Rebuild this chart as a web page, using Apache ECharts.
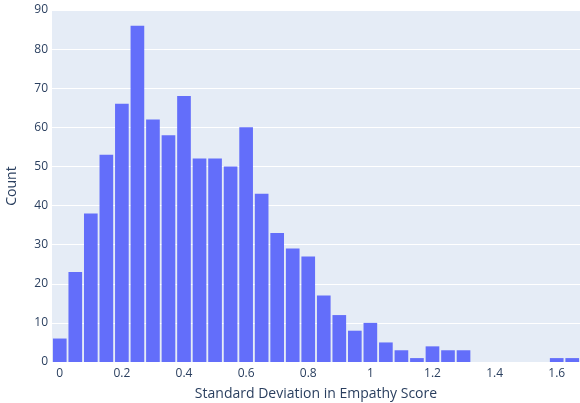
<!DOCTYPE html>
<html>
<head>
<meta charset="utf-8">
<script src="https://cdn.jsdelivr.net/npm/echarts@6/dist/echarts.min.js"></script>
<style>
  html, body { margin: 0; padding: 0; background: #fff; }
  #chart { width: 580px; height: 403px; }
</style>
</head>
<body>
<div id="chart"></div>
<script>
// bin centres (width 0.05) and counts
var binCenters = ['0', '0.05', '0.1', '0.15', '0.2', '0.25', '0.3', '0.35', '0.4', '0.45',
  '0.5', '0.55', '0.6', '0.65', '0.7', '0.75', '0.8', '0.85', '0.9', '0.95',
  '1', '1.05', '1.1', '1.15', '1.2', '1.25', '1.3', '1.35', '1.4', '1.45',
  '1.5', '1.55', '1.6', '1.65'];
var counts = [6, 23, 38, 53, 66, 86, 62, 58, 68, 52,
  52, 50, 60, 43, 33, 29, 27, 17, 12, 8,
  10, 5, 3, 1, 4, 3, 3, 0, 0, 0,
  0, 0, 1, 1];
var yTicks = [0, 10, 20, 30, 40, 50, 60, 70, 80, 90];

var textColor = '#2a3f5f';
var font = '"Open Sans", "Noto Sans", sans-serif';

var myChart = echarts.init(document.getElementById('chart'), null, { renderer: 'canvas' });

var option = {
    animation: false,
    backgroundColor: '#ffffff',
    grid: {
        left: 52,
        right: 0,
        top: 10,
        bottom: 41,
        containLabel: false,
        outerBoundsMode: 'none',
        show: true,
        backgroundColor: '#E5ECF6',
        borderWidth: 0
    },
    xAxis: {
        type: 'category',
        data: binCenters,
        name: 'Standard Deviation in Empathy Score',
        nameLocation: 'middle',
        nameGap: 25,
        nameTextStyle: { color: textColor, fontFamily: font, fontSize: 14 },
        axisLine: { show: false },
        axisTick: { show: false },
        splitLine: { show: false },
        axisLabel: {
            interval: 3,
            margin: 6,
            color: textColor,
            fontFamily: font,
            fontSize: 12
        }
    },
    yAxis: {
        type: 'value',
        min: yTicks[0],
        max: yTicks[yTicks.length - 1],
        interval: 10,
        name: 'Count',
        nameLocation: 'middle',
        nameGap: 33,
        nameTextStyle: { color: textColor, fontFamily: font, fontSize: 14 },
        axisLine: { show: false },
        axisTick: { show: false },
        splitLine: { lineStyle: { color: '#ffffff', width: 1 } },
        axisLabel: {
            margin: 4,
            color: textColor,
            fontFamily: font,
            fontSize: 12
        }
    },
    series: [{
        type: 'bar',
        data: counts,
        barCategoryGap: '12%',
        itemStyle: { color: '#636EFA' }
    }]
};

myChart.setOption(option);
window.onresize = myChart.resize;
</script>
</body>
</html>
